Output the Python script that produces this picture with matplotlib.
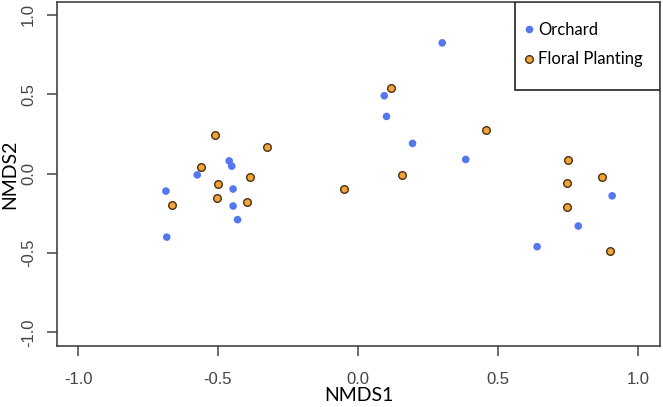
import matplotlib
matplotlib.use("Agg")
import matplotlib.pyplot as plt
from matplotlib.patches import Rectangle
from matplotlib.lines import Line2D

# NMDS scores
orchard_x = [-0.686, -0.683, -0.574, -0.460, -0.451, -0.446, -0.446, -0.430,
             0.301, 0.094, 0.102, 0.195, 0.385, 0.908, 0.787, 0.640]
orchard_y = [-0.110, -0.400, -0.008, 0.080, 0.047, -0.097, -0.204, -0.290,
             0.823, 0.490, 0.360, 0.190, 0.089, -0.140, -0.330, -0.460]

floral_x = [-0.511, -0.326, -0.562, -0.386, -0.499, -0.504, -0.396, -0.665,
            -0.050, 0.119, 0.456, 0.157, 0.749, 0.746, 0.746, 0.872, 0.900]
floral_y = [0.242, 0.165, 0.043, -0.020, -0.068, -0.154, -0.180, -0.200,
            -0.097, 0.540, 0.276, -0.008, 0.083, -0.062, -0.209, -0.022, -0.487]

ticks = [-1.0, -0.5, 0.0, 0.5, 1.0]
tick_labels = ["-1.0", "-0.5", "0.0", "0.5", "1.0"]

blue = "#5577ee"
orange = "#f0a43c"
edge = "#4a3010"
label_font = ["Lato", "DejaVu Sans"]
tick_font = ["Liberation Sans", "DejaVu Sans"]

fig = plt.figure(figsize=(6.63, 4.07), dpi=100)
ax = fig.add_axes([0.086, 0.150, 0.9095, 0.845])

ax.scatter(orchard_x, orchard_y, s=30, color=blue, edgecolors="none", zorder=3)
ax.scatter(floral_x, floral_y, s=30, color=orange, edgecolors=edge,
           linewidths=1.0, zorder=3)

ax.set_xlim(-1.075, 1.079)
ax.set_ylim(-1.085, 1.08)
ax.set_xticks(ticks)
ax.set_xticklabels(tick_labels, family=tick_font, fontsize=12, color="#444444")
ax.set_yticks(ticks)
ax.set_yticklabels(tick_labels, family=tick_font, fontsize=12, color="#444444",
                   rotation=90, va="center")
ax.tick_params(axis="both", direction="out", length=7, width=1.1, color="#444444")
ax.tick_params(axis="x", pad=12)
ax.tick_params(axis="y", pad=8)
for sp in ax.spines.values():
    sp.set_color("#444444")
    sp.set_linewidth(1.2)

ax.set_xlabel("NMDS1", family=label_font, fontsize=14, labelpad=0)
ax.set_ylabel("NMDS2", family=label_font, fontsize=14, labelpad=2)

# legend box like base R
ax.add_patch(Rectangle((0.76, 0.744), 0.24, 0.256, transform=ax.transAxes,
                       facecolor="white", edgecolor="#222222", linewidth=1.2,
                       zorder=4))
handles = [Line2D([], [], ls="none", marker="o", ms=5.5, color=blue, mec="none"),
           Line2D([], [], ls="none", marker="o", ms=5.5, color=orange, mec=edge, mew=1.0)]
leg = ax.legend(handles, ["Orchard", "Floral Planting"], loc="upper left",
                bbox_to_anchor=(0.742, 1.0), frameon=False, handlelength=0.5,
                handletextpad=0.3, labelspacing=0.8, borderpad=0.9,
                borderaxespad=0.3, prop={"family": label_font, "size": 12})
leg.set_zorder(5)

fig.savefig("out.png", dpi=100)
